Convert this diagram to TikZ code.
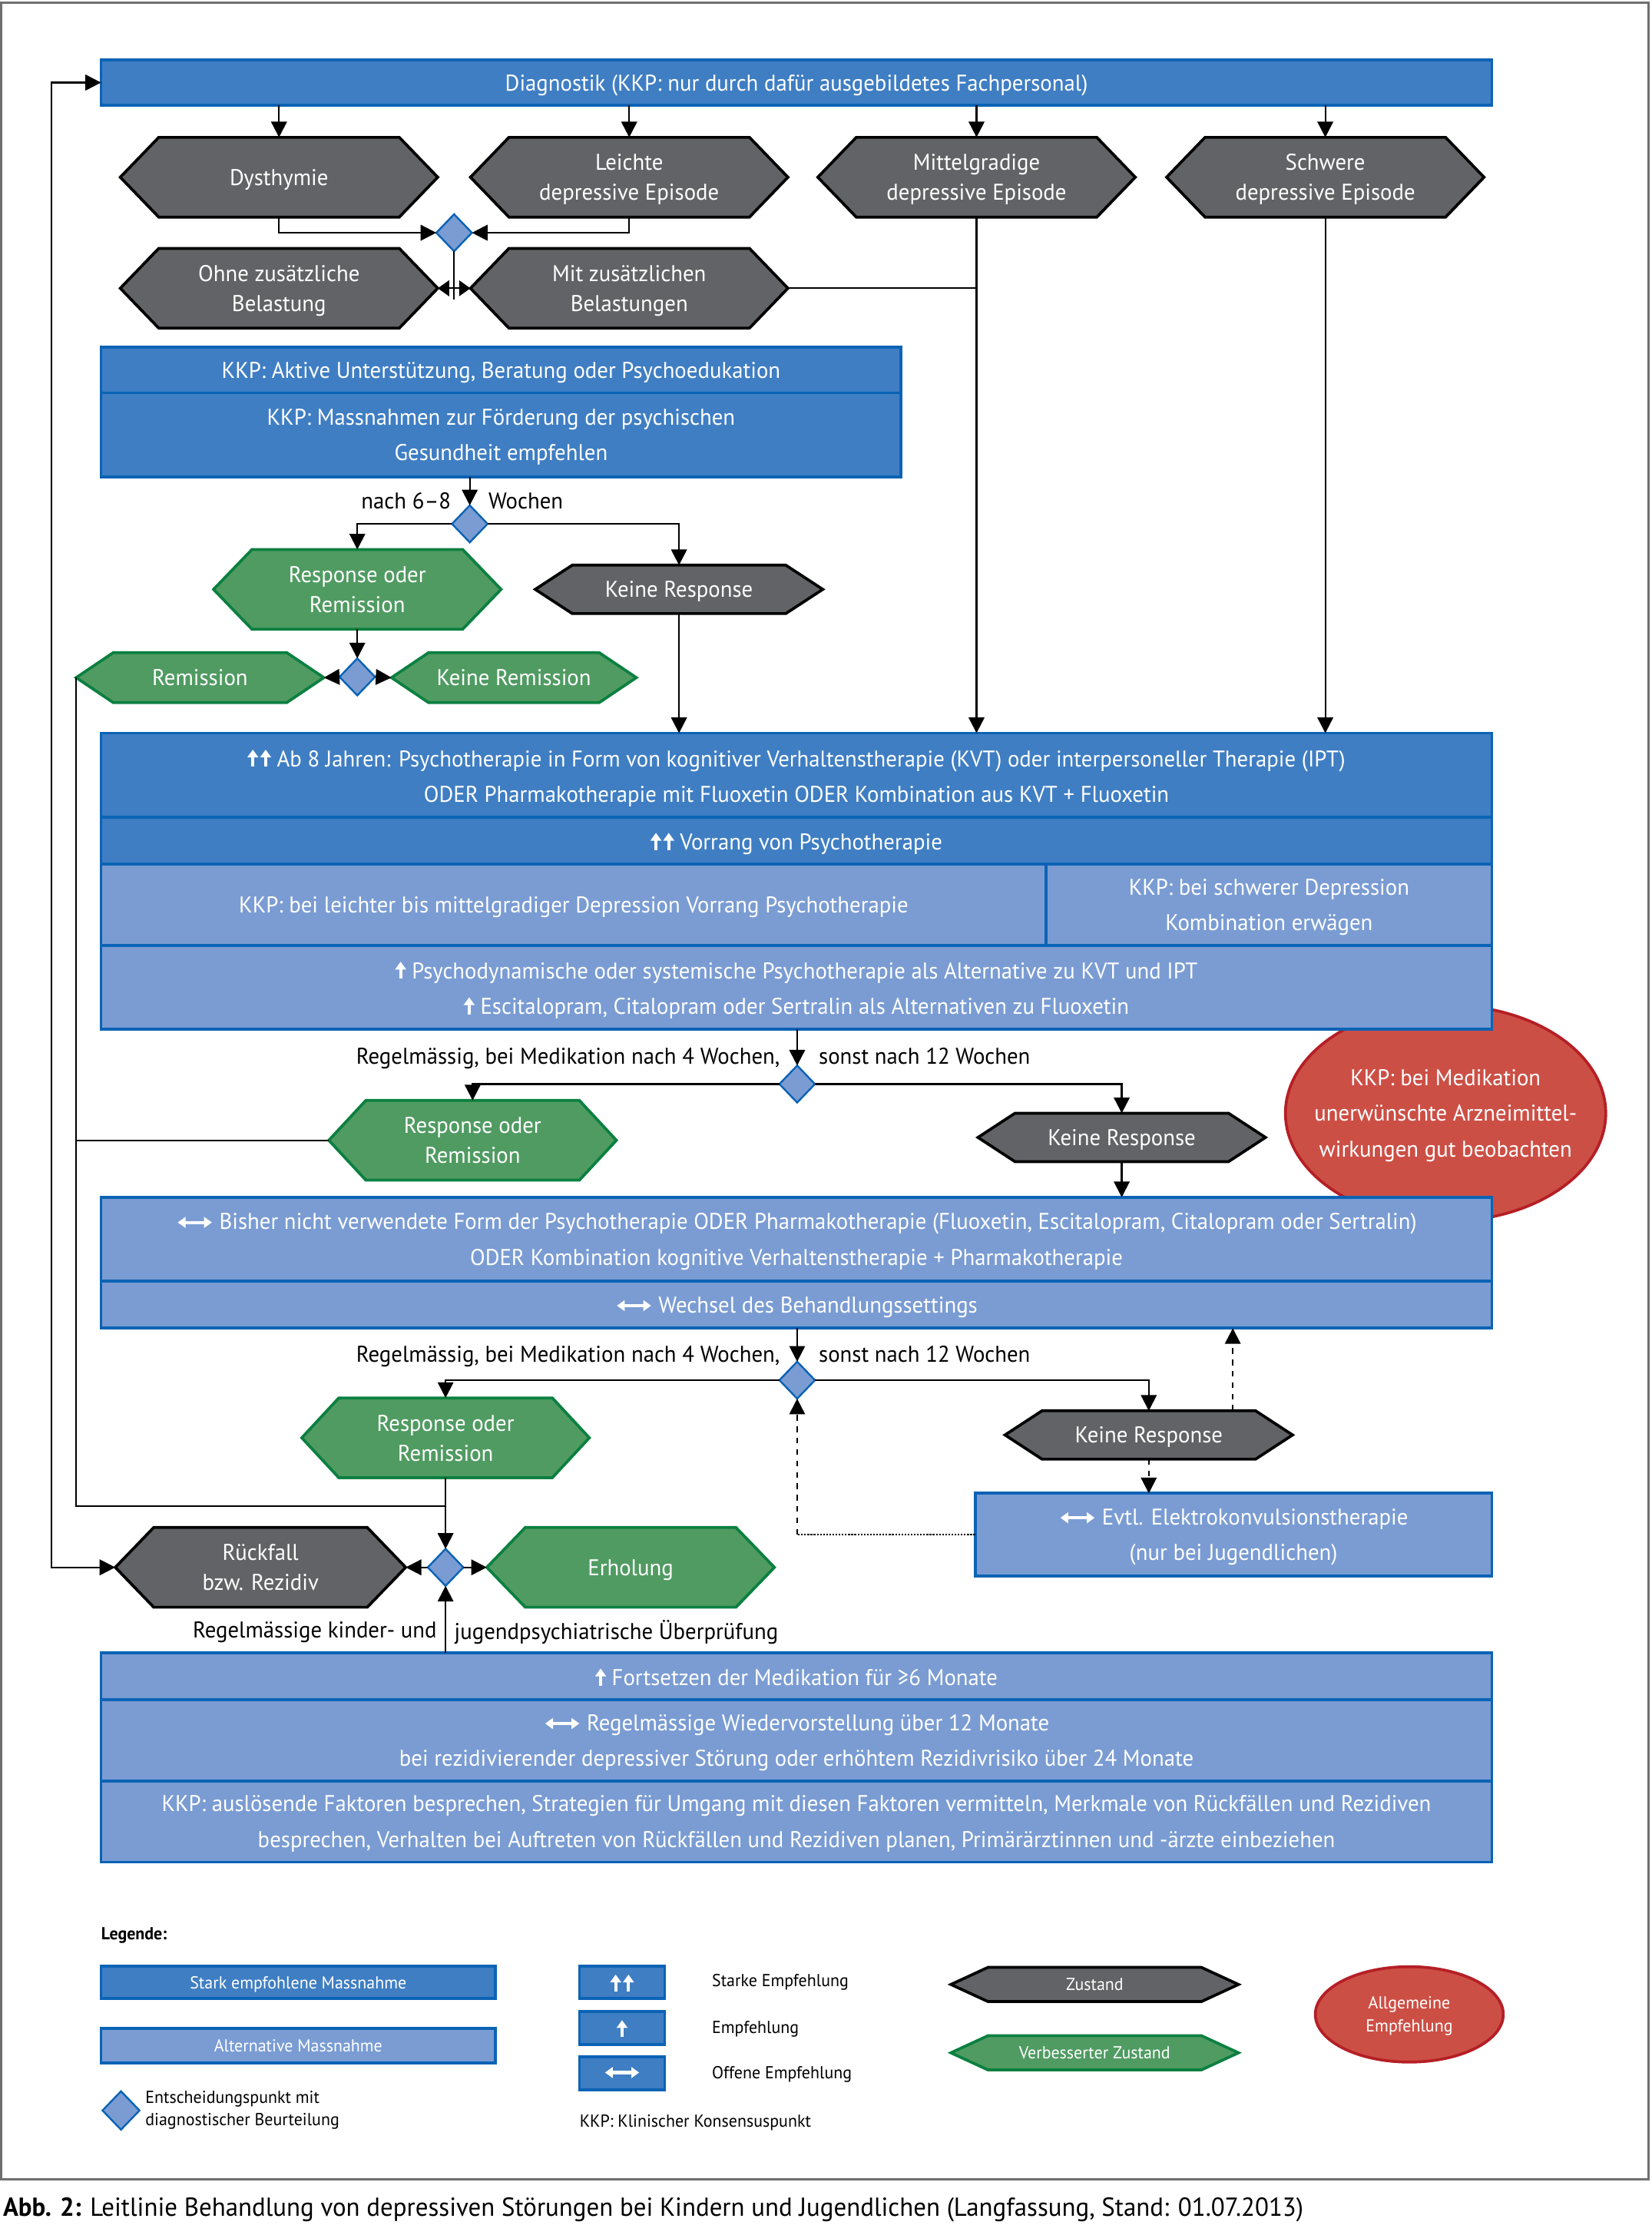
\documentclass[tikz,border=0pt]{standalone}
\usepackage{fontspec}
\setmainfont{PT Sans}[FakeStretch=0.97]
\usetikzlibrary{arrows.meta,calc,shapes.geometric}
\definecolor{dblue}{HTML}{3F7EC3}
\definecolor{lblue}{HTML}{7A9CD3}
\definecolor{bblue}{HTML}{0B63B5}
\definecolor{hgray}{HTML}{626366}
\definecolor{hgreen}{HTML}{509B62}
\definecolor{gborder}{HTML}{0B8040}
\definecolor{rfill}{HTML}{CC4F45}
\definecolor{rborder}{HTML}{B51F25}
\definecolor{framec}{HTML}{6F6F6F}
\newcommand\fs{\fontsize{16}{25}\selectfont}
\newcommand\hfs{\fontsize{16}{21}\selectfont}
\newcommand\lfs{\fontsize{12.2}{16}\selectfont}
\newcommand\capfs{\fontsize{18.3}{22}\selectfont}
\newcommand\uarr{\tikz[baseline=0pt,x=1pt,y=1pt]\draw[white,line width=2.2pt,-{Triangle[width=7.5pt,length=5.5pt]}] (0,0) -- (0,12);}
\newcommand\uu{\uarr\kern1.5pt\uarr}
\newcommand\lrarr{\tikz[baseline=0pt,x=1pt,y=1pt]\draw[white,line width=2.2pt,{Triangle[width=7.5pt,length=5.5pt]}-{Triangle[width=7.5pt,length=5.5pt]}] (0,5) -- (24,5);}
\newcommand\Hex[8]{%
  \filldraw[#1] ({#3-#5},{#4}) -- ({#3-#5+#7},{#4-#6}) -- ({#3+#5-#7},{#4-#6}) -- ({#3+#5},{#4}) -- ({#3+#5-#7},{#4+#6}) -- ({#3-#5+#7},{#4+#6}) -- cycle;
  \node[hexlabel, minimum width={2*#5}, minimum height={2*#6}] (#2) at (#3,#4) {#8};}
\begin{document}
\begin{tikzpicture}[x=1pt,y=-1pt,
  box/.style={draw=bblue, line width=2, inner sep=0, outer sep=0, text=white, align=center, font=\fs, text depth=0pt},
  dbox/.style={box, fill=dblue},
  lbox/.style={box, fill=lblue},
  hexlabel/.style={inner sep=0, outer sep=0, text=white, align=center, font=\hfs, text depth=0pt},
  zgray/.style={fill=hgray, draw=black, line width=2},
  zgreen/.style={fill=hgreen, draw=gborder, line width=2},
  dia/.style={diamond, aspect=1, draw=bblue, fill=lblue, line width=1.3, inner sep=0, outer sep=0, minimum width=25, minimum height=26},
  redell/.style={ellipse, draw=rborder, fill=rfill, line width=2, inner ysep=0, inner xsep=-30pt, text=white, align=center, text depth=0pt},
  conn/.style={draw, line width=1.2, -{Triangle[width=11pt,length=11pt]}},
  sconn/.style={draw, line width=1.2, -{Triangle[width=11pt,length=8pt]}},
  plain/.style={draw, line width=1.2},
  dconn/.style={draw, line width=1.2, dash pattern=on 4pt off 4pt, -{Triangle[width=11pt,length=11pt]}},
  lbl/.style={inner sep=0, font=\fs, text=black, text depth=0pt},
  leg/.style={inner sep=0, font=\lfs, text=black, text depth=0pt}]
\useasboundingbox (0,0) rectangle (1160,1570);
\draw[framec, line width=1.5] (1,2) rectangle (1158,1531);

% Diagnostik
\node[dbox, minimum width=977, minimum height=32] (diag) at (559.5,58) {Diagnostik (KKP: nur durch dafür ausgebildetes Fachpersonal)};

% first hexagon row
\Hex{zgray}{dys}{196}{124.5}{111.5}{28}{27}{Dysthymie}
\Hex{zgray}{lei}{442}{124.5}{111.5}{28}{27}{Leichte\\depressive Episode}
\Hex{zgray}{mit}{686}{124.5}{111.5}{28}{27}{Mittelgradige\\depressive Episode}
\Hex{zgray}{sch}{931}{124.5}{111.5}{28}{27}{Schwere\\depressive Episode}
\Hex{zgray}{ohne}{196}{202.5}{111.5}{28}{27}{Ohne zusätzliche\\Belastung}
\Hex{zgray}{mitz}{442}{202.5}{111.5}{28}{27}{Mit zusätzlichen\\Belastungen}

\foreach \n in {dys,lei,mit,sch} \draw[conn] (\n.north |- diag.south) -- (\n.north);

\node[dia] (d1) at (319,163.5) {};
\draw[conn] (dys.south) |- (d1.west);
\draw[conn] (lei.south) |- (d1.east);
\draw[plain] (d1.south) -- ++(0,34) coordinate (d1b);
\coordinate (j1) at (d1.south |- ohne.east);
\draw[sconn] (j1) -- (ohne.east);
\draw[sconn] (j1) -- (mitz.west);
\draw[plain] (mitz.east) -- (mitz.east -| mit.south);

% KKP box 1
\node[dbox, minimum width=562, minimum height=32] (k1a) at (352,260) {KKP: Aktive Unterstützung, Beratung oder Psychoedukation};
\node[dbox, minimum width=562, minimum height=59] (k1b) at (352,305.5) {KKP: Massnahmen zur Förderung der psychischen\\Gesundheit empfehlen};

\node[dia] (d2) at (330,368) {};
\draw[conn] (d2.north |- k1b.south) -- (d2.north);
\node[lbl, anchor=east] at (317,352) {nach 6–8};
\node[lbl, anchor=west] at (343,352) {Wochen};

\Hex{zgreen}{rr1}{251}{414}{101}{28}{27}{Response oder\\Remission}
\Hex{zgray}{kr1}{477}{414}{101}{17}{26}{Keine Response}
\draw[conn] (d2.west) -| (rr1.north);
\draw[conn] (d2.east) -| (kr1.north);

\node[dia] (d3) at (251,475.5) {};
\draw[conn] (rr1.south) -- (d3.north);
\Hex{zgreen}{rem}{140.5}{476}{87}{17.5}{26}{Remission}
\Hex{zgreen}{krem}{361}{476}{86}{17.5}{26}{Keine Remission}
\draw[conn] (d3.west) -- (rem.east);
\draw[conn] (d3.east) -- (krem.west);

% red ellipse (behind boxes)
\node[redell, font=\fs, minimum width=225, minimum height=152] (red) at (1015.5,782) {KKP: bei Medikation\\unerwünschte Arzneimittel-\\wirkungen gut beobachten};

% Box 2
\node[dbox, minimum width=977, minimum height=59] (b2a) at (559.5,544.5) {\uu\ Ab 8 Jahren: Psychotherapie in Form von kognitiver Verhaltenstherapie (KVT) oder interpersoneller Therapie (IPT)\\ODER Pharmakotherapie mit Fluoxetin ODER Kombination aus KVT + Fluoxetin};
\node[dbox, minimum width=977, minimum height=33] (b2b) at (559.5,590.5) {\uu\ Vorrang von Psychotherapie};
\node[lbox, minimum width=664, minimum height=57] (b2c) at (403,635.5) {KKP: bei leichter bis mittelgradiger Depression Vorrang Psychotherapie};
\node[lbox, minimum width=313, minimum height=57] (b2d) at (891.5,635.5) {KKP: bei schwerer Depression\\Kombination erwägen};
\node[lbox, minimum width=977, minimum height=59] (b2e) at (559.5,693.5) {\uarr\ Psychodynamische oder systemische Psychotherapie als Alternative zu KVT und IPT\\\uarr\ Escitalopram, Citalopram oder Sertralin als Alternativen zu Fluoxetin};

\draw[conn] (mit.south) -- (mit.south |- b2a.north);
\draw[conn] (sch.south) -- (sch.south |- b2a.north);
\draw[conn] (kr1.south) -- (kr1.south |- b2a.north);

% decision 4
\node[dia] (d4) at (560,761.5) {};
\draw[conn] (d4.north |- b2e.south) -- (d4.north);
\node[lbl, anchor=east] at (548,742) {Regelmässig, bei Medikation nach 4 Wochen,};
\node[lbl, anchor=west] at (575,742) {sonst nach 12 Wochen};
\Hex{zgreen}{rr2}{332}{801}{101}{28}{26}{Response oder\\Remission}
\Hex{zgray}{kr2}{788}{799}{101}{17}{26}{Keine Response}
\draw[conn] (d4.west) -| (rr2.north);
\draw[conn] (d4.east) -| (kr2.north);

% Box 3
\node[lbox, minimum width=977, minimum height=59] (b3a) at (559.5,870.5) {\lrarr\ Bisher nicht verwendete Form der Psychotherapie ODER Pharmakotherapie (Fluoxetin, Escitalopram, Citalopram oder Sertralin)\\ODER Kombination kognitive Verhaltenstherapie + Pharmakotherapie};
\node[lbox, minimum width=977, minimum height=33] (b3b) at (559.5,916.5) {\lrarr\ Wechsel des Behandlungssettings};
\draw[conn] (kr2.south) -- (kr2.south |- b3a.north);

% decision 5
\node[dia] (d5) at (560,969.5) {};
\draw[conn] (d5.north |- b3b.south) -- (d5.north);
\node[lbl, anchor=east] at (548,951) {Regelmässig, bei Medikation nach 4 Wochen,};
\node[lbl, anchor=west] at (575,951) {sonst nach 12 Wochen};
\Hex{zgreen}{rr3}{313}{1010}{101}{28}{26}{Response oder\\Remission}
\Hex{zgray}{kr3}{807}{1008}{101}{17}{26}{Keine Response}
\draw[conn] (d5.west) -| (rr3.north);
\draw[conn] (d5.east) -| (kr3.north);

\node[lbox, minimum width=363, minimum height=58] (ect) at (866.5,1078) {\lrarr\ Evtl. Elektrokonvulsionstherapie\\(nur bei Jugendlichen)};
\coordinate (kr3t) at ($(kr3.north east)+(-42,0)$);
\draw[dconn] (kr3t) -- (kr3t |- b3b.south);
\draw[dconn] (kr3.south) -- (kr3.south |- ect.north);
\draw[line width=1.2, densely dotted] (ect.west) -- (ect.west -| d5.south) coordinate (ectc);
\draw[dconn] (ectc) -- (d5.south);

% decision 6
\node[dia] (d6) at (313,1101) {};
\Hex{zgray}{rk}{183}{1101}{102}{28}{27}{Rückfall\\bzw. Rezidiv}
\Hex{zgreen}{er}{443}{1101}{101}{28}{27}{Erholung}
\draw[conn] (rr3.south) -- (d6.north);
\draw[conn] (d6.west) -- (rk.east);
\draw[conn] (d6.east) -- (er.west);
\coordinate (j6) at (313,1058);
\draw[plain] (rem.west) |- (j6);
\draw[plain] (rr2.west) -- (rr2.west -| rem.west);
\coordinate (lp) at (36,0);
\draw[line width=1.2, {Triangle[width=11pt,length=11pt]}-{Triangle[width=11pt,length=11pt]}] (rk.west) -- (rk.west -| lp) -- (lp |- diag.west) -- (diag.west);

% Box 4
\node[lbox, minimum width=977, minimum height=33] (b4a) at (559.5,1177.5) {\uarr\ Fortsetzen der Medikation für ≥6 Monate};
\node[lbox, minimum width=977, minimum height=57] (b4b) at (559.5,1222.5) {\lrarr\ Regelmässige Wiedervorstellung über 12 Monate\\bei rezidivierender depressiver Störung oder erhöhtem Rezidivrisiko über 24 Monate};
\node[lbox, minimum width=977, minimum height=57] (b4c) at (559.5,1279.5) {KKP: auslösende Faktoren besprechen, Strategien für Umgang mit diesen Faktoren vermitteln, Merkmale von Rückfällen und Rezidiven\\besprechen, Verhalten bei Auftreten von Rückfällen und Rezidiven planen, Primärärztinnen und -ärzte einbeziehen};
\draw[conn] (d6.south |- b4a.north) -- (d6.south);
\node[lbl, anchor=east] at (307,1145) {Regelmässige kinder- und};
\node[lbl, anchor=west] at (319,1145) {jugendpsychiatrische Überprüfung};

% Legend
\node[leg, anchor=west, font=\lfs\bfseries] (legt) at (71,1358) {Legende:};
\node[dbox, font=\lfs, minimum width=277, minimum height=23] (lg1) at (209.5,1392.5) {Stark empfohlene Massnahme};
\node[lbox, font=\lfs, minimum width=277, minimum height=24] (lg2) at (209.5,1437) {Alternative Massnahme};
\node[dia, minimum width=26, minimum height=27] (lgd) at (85,1482.5) {};
\node[leg, anchor=west, align=left] (lgdt) at (102,1481) {Entscheidungspunkt mit\\diagnostischer Beurteilung};
\node[dbox, font=\lfs, minimum width=60, minimum height=23] (ls1) at (437,1392.5) {\uu};
\node[dbox, font=\lfs, minimum width=60, minimum height=23] (ls2) at (437,1424.5) {\uarr};
\node[dbox, font=\lfs, minimum width=60, minimum height=23] (ls3) at (437,1456.5) {\lrarr};
\node[leg, anchor=west] (lt1) at (500,1391) {Starke Empfehlung};
\node[leg, anchor=west] (lt2) at (500,1424) {Empfehlung};
\node[leg, anchor=west] (lt3) at (500,1456) {Offene Empfehlung};
\node[leg, anchor=west] (lkkp) at (407,1490) {KKP: Klinischer Konsensuspunkt};
\filldraw[zgray] (668,1394) -- (694,1382) -- (844,1382) -- (870,1394) -- (844,1406) -- (694,1406) -- cycle;
\node[hexlabel, font=\lfs] (lgz) at (769,1394) {Zustand};
\filldraw[zgreen] (668,1442) -- (694,1430) -- (844,1430) -- (870,1442) -- (844,1454) -- (694,1454) -- cycle;
\node[hexlabel, font=\lfs] (lgv) at (769,1442) {Verbesserter Zustand};
\node[redell, inner xsep=-12pt, font=\lfs, minimum width=132, minimum height=67] (lgr) at (990,1415) {Allgemeine\\Empfehlung};

% caption
\node[anchor=west, inner sep=0, font=\capfs] (cap) at (2,1552) {\textbf{Abb. 2:} Leitlinie Behandlung von depressiven Störungen bei Kindern und Jugendlichen (Langfassung, Stand: 01.07.2013)};
\end{tikzpicture}
\end{document}
